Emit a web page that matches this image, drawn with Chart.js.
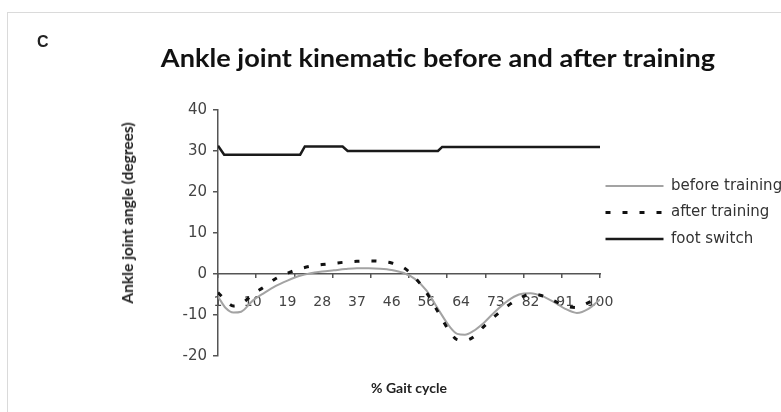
<!DOCTYPE html>
<html>
<head>
<meta charset="utf-8">
<script src="https://cdn.jsdelivr.net/npm/chart.js@4/dist/chart.umd.min.js"></script>
<style>
  html, body { margin: 0; padding: 0; background: #fff; }
  #wrap { position: relative; width: 781px; height: 412px; overflow: hidden; }
  #frame { position: absolute; left: 7px; top: 12px; width: 820px; height: 440px; border: 1.5px solid #dadada; }
  #panel { position: absolute; left: 37px; top: 33px; font: bold 16px "Liberation Sans", Arial, sans-serif; color: #222; }
  #title { position: absolute; left: 138px; top: 43px; width: 600px; text-align: center;
           font: bold 24px Lato, sans-serif; color: #111; line-height: 30px;
           transform: scaleX(1.13); transform-origin: 300px 0; }
  #ytitle { position: absolute; left: 127px; top: 213px; white-space: nowrap;
            font: bold 15.5px Lato, sans-serif; color: #222;
            transform: translate(-50%, -50%) rotate(-90deg); }
  canvas { position: absolute; left: 0; top: 0; }
</style>
</head>
<body>
<div id="wrap">
  <div id="frame"></div>
  <canvas id="chart" width="781" height="412"></canvas>
  <div id="panel">C</div>
  <div id="title">Ankle joint kinematic before and after training</div>
  <div id="ytitle">Ankle joint angle (degrees)</div>
</div>
<script>
// % gait cycle sample points and angles
const gaitX = [1, 3, 5, 7, 10, 13, 16, 19, 22, 25, 28, 31, 34, 37, 40, 43, 46, 49, 52, 55,
               58, 61, 63, 65, 67, 70, 73, 76, 79, 82, 85, 88, 91, 94, 97, 100];
const beforeTraining = [-5.5, -8.3, -9.4, -9.2, -6.5, -4.6, -2.9, -1.6, -0.5, 0.2, 0.6, 0.9, 1.2, 1.4, 1.4, 1.3, 1.0, 0.3, -1.2, -4.0,
                        -8.5, -12.8, -14.6, -14.8, -14.0, -11.8, -9.0, -6.6, -5.0, -4.7, -5.4, -6.8, -8.5, -9.5, -8.5, -6.2];
const afterTraining = [-4.5, -6.5, -7.8, -7.3, -5.0, -3.1, -1.1, 0.2, 1.2, 1.9, 2.3, 2.6, 2.9, 3.1, 3.2, 3.1, 2.7, 1.6, -0.8, -4.5,
                       -9.2, -14.0, -16.0, -16.2, -15.5, -12.7, -10.1, -7.8, -6.0, -4.9, -5.3, -6.5, -7.8, -8.2, -7.0, -5.5];

const switchX = [1, 2.6, 22.3, 23.5, 33.3, 34.6, 58, 59.1, 100];
const footSwitch = [31.3, 29.1, 29.1, 31.1, 31.1, 30, 30, 31, 31];

const tickValues = [1, 10, 19, 28, 37, 46, 55, 64, 73, 82, 91, 100];
const tickLabels = ['1', '10', '19', '28', '37', '46', '56', '64', '73', '82', '91', '100'];
const tickMarks = Array.from({ length: 11 }, (_, k) => 1 + k * 9.9);

Chart.defaults.font.family = 'DejaVu Sans';
Chart.defaults.color = '#444';

const axisGrey = '#555';

// legend sits a bit higher and closer to the plot than chart.js puts it
const legendNudge = {
  id: 'legendNudge',
  afterLayout(chart) {
    chart.legend.left = 594;
    chart.legend.top = 167;
  }
};

const ctx = document.getElementById('chart').getContext('2d');
new Chart(ctx, {
  type: 'line',
  data: {
    datasets: [
      {
        label: 'before training',
        data: gaitX.map((x, i) => ({ x, y: beforeTraining[i] })),
        borderColor: '#a3a3a3',
        borderWidth: 2,
        cubicInterpolationMode: 'monotone',
        pointRadius: 0,
        order: 1,
      },
      {
        label: 'after training',
        data: gaitX.map((x, i) => ({ x, y: afterTraining[i] })),
        borderColor: '#111',
        borderWidth: 3,
        borderDash: [5, 12],
        cubicInterpolationMode: 'monotone',
        pointRadius: 0,
        order: 0,
      },
      {
        label: 'foot switch',
        data: switchX.map((x, i) => ({ x, y: footSwitch[i] })),
        borderColor: '#1a1a1a',
        borderWidth: 2.5,
        tension: 0,
        pointRadius: 0,
        order: 2,
      },
    ],
  },
  options: {
    responsive: false,
    animation: false,
    layout: { padding: { left: 116, top: 110, right: 0, bottom: 11.6 } },
    plugins: {
      legend: {
        position: 'right',
        align: 'start',
        maxWidth: 181,
        labels: {
          usePointStyle: true,
          pointStyle: 'line',
          pointStyleWidth: 58,
          padding: 11.5,
          color: '#333',
          font: { size: 15 },
          sort: (a, b) => a.datasetIndex - b.datasetIndex,
          generateLabels: (chart) => {
            const items = Chart.defaults.plugins.legend.labels.generateLabels(chart);
            items.forEach((it) => {
              const ds = chart.data.datasets[it.datasetIndex];
              it.lineDash = ds.borderDash || [];
              it.lineWidth = ds.borderWidth;
              it.strokeStyle = ds.borderColor;
            });
            return items;
          },
        },
      },
      tooltip: { enabled: false },
    },
    scales: {
      x: {
        type: 'linear',
        position: { y: 0 },
        min: 1,
        max: 100,
        afterBuildTicks: (s) => { s.ticks = tickValues.map((v) => ({ value: v })); },
        ticks: {
          autoSkip: false,
          maxRotation: 0,
          padding: 16,
          font: { size: 14 },
          callback: (v, i) => tickLabels[i],
        },
        grid: { display: false, tickLength: 4 },
        border: { display: true, color: axisGrey, width: 1.5 },
      },
      xt: {
        type: 'linear',
        position: { y: 0 },
        min: 1,
        max: 100,
        afterBuildTicks: (s) => { s.ticks = tickMarks.map((v) => ({ value: v })); },
        ticks: { display: false },
        grid: { drawOnChartArea: false, tickLength: 4, color: axisGrey, lineWidth: 1.5 },
        border: { display: false },
      },
      xb: {
        type: 'linear',
        position: 'bottom',
        min: 1,
        max: 100,
        ticks: { display: false },
        grid: { display: false },
        border: { display: false },
        title: {
          display: true,
          text: '% Gait cycle',
          color: '#222',
          font: { family: 'Lato', weight: 'bold', size: 14 },
          padding: { top: 15.6, bottom: 4 },
        },
      },
      y: {
        min: -20,
        max: 40,
        ticks: { stepSize: 10, padding: 6, font: { size: 15 } },
        grid: { drawOnChartArea: false, tickLength: 5, color: axisGrey, lineWidth: 1.5 },
        border: { color: axisGrey, width: 1.5 },
        afterFit: (s) => { s.width = 102; },
      },
    },
  },
  plugins: [legendNudge],
});
</script>
</body>
</html>
